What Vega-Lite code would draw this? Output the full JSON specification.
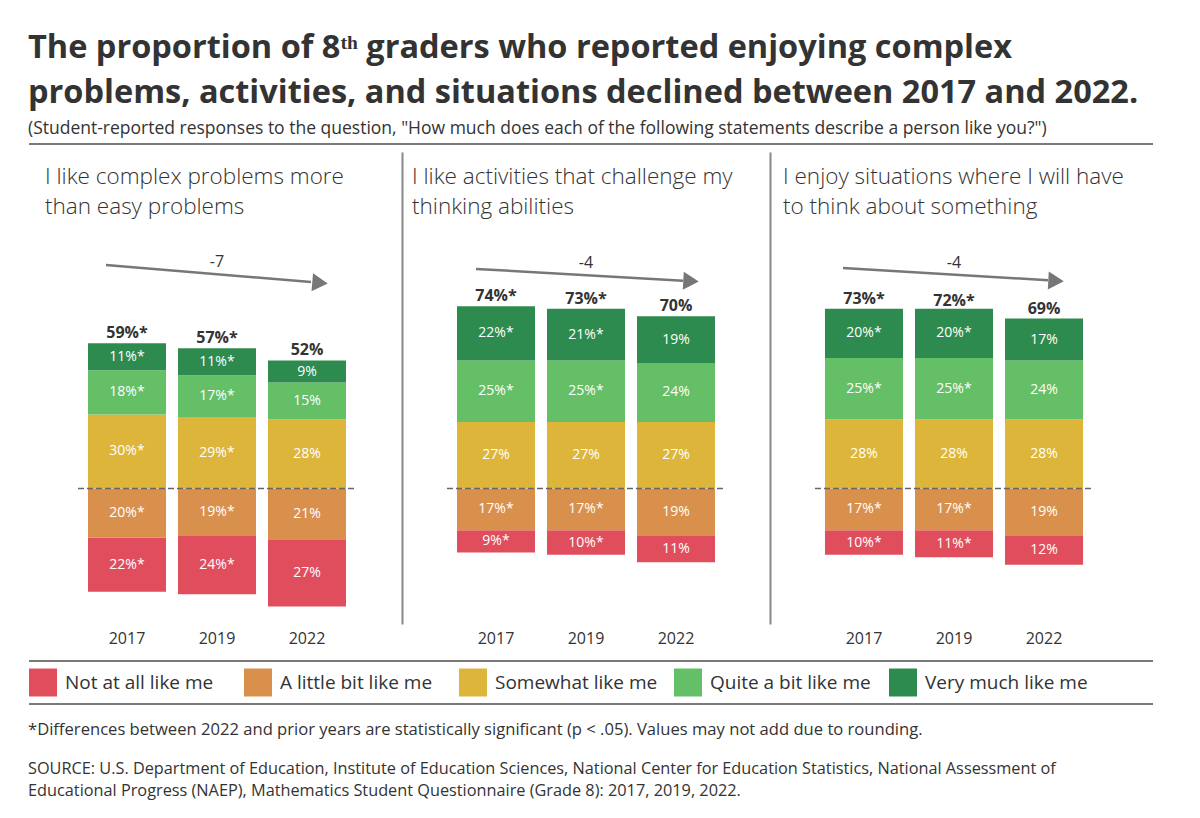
{
  "$schema": "https://vega.github.io/schema/vega-lite/v6.json",
  "background": "white",
  "padding": {"left": 28, "top": 31, "right": 10, "bottom": 5},
  "config": {
    "font": "Open Sans",
    "view": {"stroke": null},
    "axisX": {"domain": false, "ticks": false, "grid": false, "labelFontSize": 16, "labelColor": "#333", "labelPadding": 6, "labelAngle": 0, "labelFont": "Open Sans"},
    "axisY": {"domain": false, "ticks": false, "grid": false, "labels": false}
  },
  "title": {
    "text": ["The proportion of 8ᵗʰ graders who reported enjoying complex", "problems, activities, and situations declined between 2017 and 2022."],
    "subtitle": "(Student-reported responses to the question, \"How much does each of the following statements describe a person like you?\")",
    "anchor": "start",
    "font": "Open Sans", "fontSize": 32.5, "fontWeight": "bold", "lineHeight": 45, "color": "#333",
    "subtitleFont": "Open Sans", "subtitleFontSize": 17.5, "subtitleColor": "#333", "subtitlePadding": 11,
    "offset": 5
  },
  "datasets": {
    "bars": [
      {"item": "A", "year": "2017", "response": "Not at all like me", "level": 1, "pct": 22, "sig": true},
      {"item": "A", "year": "2017", "response": "A little bit like me", "level": 2, "pct": 20, "sig": true},
      {"item": "A", "year": "2017", "response": "Somewhat like me", "level": 3, "pct": 30, "sig": true},
      {"item": "A", "year": "2017", "response": "Quite a bit like me", "level": 4, "pct": 18, "sig": true},
      {"item": "A", "year": "2017", "response": "Very much like me", "level": 5, "pct": 11, "sig": true},
      {"item": "A", "year": "2019", "response": "Not at all like me", "level": 1, "pct": 24, "sig": true},
      {"item": "A", "year": "2019", "response": "A little bit like me", "level": 2, "pct": 19, "sig": true},
      {"item": "A", "year": "2019", "response": "Somewhat like me", "level": 3, "pct": 29, "sig": true},
      {"item": "A", "year": "2019", "response": "Quite a bit like me", "level": 4, "pct": 17, "sig": true},
      {"item": "A", "year": "2019", "response": "Very much like me", "level": 5, "pct": 11, "sig": true},
      {"item": "A", "year": "2022", "response": "Not at all like me", "level": 1, "pct": 27, "sig": false},
      {"item": "A", "year": "2022", "response": "A little bit like me", "level": 2, "pct": 21, "sig": false},
      {"item": "A", "year": "2022", "response": "Somewhat like me", "level": 3, "pct": 28, "sig": false},
      {"item": "A", "year": "2022", "response": "Quite a bit like me", "level": 4, "pct": 15, "sig": false},
      {"item": "A", "year": "2022", "response": "Very much like me", "level": 5, "pct": 9, "sig": false},
      {"item": "B", "year": "2017", "response": "Not at all like me", "level": 1, "pct": 9, "sig": true},
      {"item": "B", "year": "2017", "response": "A little bit like me", "level": 2, "pct": 17, "sig": true},
      {"item": "B", "year": "2017", "response": "Somewhat like me", "level": 3, "pct": 27, "sig": false},
      {"item": "B", "year": "2017", "response": "Quite a bit like me", "level": 4, "pct": 25, "sig": true},
      {"item": "B", "year": "2017", "response": "Very much like me", "level": 5, "pct": 22, "sig": true},
      {"item": "B", "year": "2019", "response": "Not at all like me", "level": 1, "pct": 10, "sig": true},
      {"item": "B", "year": "2019", "response": "A little bit like me", "level": 2, "pct": 17, "sig": true},
      {"item": "B", "year": "2019", "response": "Somewhat like me", "level": 3, "pct": 27, "sig": false},
      {"item": "B", "year": "2019", "response": "Quite a bit like me", "level": 4, "pct": 25, "sig": true},
      {"item": "B", "year": "2019", "response": "Very much like me", "level": 5, "pct": 21, "sig": true},
      {"item": "B", "year": "2022", "response": "Not at all like me", "level": 1, "pct": 11, "sig": false},
      {"item": "B", "year": "2022", "response": "A little bit like me", "level": 2, "pct": 19, "sig": false},
      {"item": "B", "year": "2022", "response": "Somewhat like me", "level": 3, "pct": 27, "sig": false},
      {"item": "B", "year": "2022", "response": "Quite a bit like me", "level": 4, "pct": 24, "sig": false},
      {"item": "B", "year": "2022", "response": "Very much like me", "level": 5, "pct": 19, "sig": false},
      {"item": "C", "year": "2017", "response": "Not at all like me", "level": 1, "pct": 10, "sig": true},
      {"item": "C", "year": "2017", "response": "A little bit like me", "level": 2, "pct": 17, "sig": true},
      {"item": "C", "year": "2017", "response": "Somewhat like me", "level": 3, "pct": 28, "sig": false},
      {"item": "C", "year": "2017", "response": "Quite a bit like me", "level": 4, "pct": 25, "sig": true},
      {"item": "C", "year": "2017", "response": "Very much like me", "level": 5, "pct": 20, "sig": true},
      {"item": "C", "year": "2019", "response": "Not at all like me", "level": 1, "pct": 11, "sig": true},
      {"item": "C", "year": "2019", "response": "A little bit like me", "level": 2, "pct": 17, "sig": true},
      {"item": "C", "year": "2019", "response": "Somewhat like me", "level": 3, "pct": 28, "sig": false},
      {"item": "C", "year": "2019", "response": "Quite a bit like me", "level": 4, "pct": 25, "sig": true},
      {"item": "C", "year": "2019", "response": "Very much like me", "level": 5, "pct": 20, "sig": true},
      {"item": "C", "year": "2022", "response": "Not at all like me", "level": 1, "pct": 12, "sig": false},
      {"item": "C", "year": "2022", "response": "A little bit like me", "level": 2, "pct": 19, "sig": false},
      {"item": "C", "year": "2022", "response": "Somewhat like me", "level": 3, "pct": 28, "sig": false},
      {"item": "C", "year": "2022", "response": "Quite a bit like me", "level": 4, "pct": 24, "sig": false},
      {"item": "C", "year": "2022", "response": "Very much like me", "level": 5, "pct": 17, "sig": false}
    ],
    "totals": [
      {"item": "A", "year": "2017", "total": 59, "sig": true},
      {"item": "A", "year": "2019", "total": 57, "sig": true},
      {"item": "A", "year": "2022", "total": 52, "sig": false},
      {"item": "B", "year": "2017", "total": 74, "sig": true},
      {"item": "B", "year": "2019", "total": 73, "sig": true},
      {"item": "B", "year": "2022", "total": 70, "sig": false},
      {"item": "C", "year": "2017", "total": 73, "sig": true},
      {"item": "C", "year": "2019", "total": 72, "sig": true},
      {"item": "C", "year": "2022", "total": 69, "sig": false}
    ],
    "items": [
      {"item": "A", "header": ["I like complex problems more", "than easy problems"], "change": "-7"},
      {"item": "B", "header": ["I like activities that challenge my", "thinking abilities"], "change": "-4"},
      {"item": "C", "header": ["I enjoy situations where I will have", "to think about something"], "change": "-4"}
    ],
    "responses": [
      {"response": "Not at all like me", "level": 1},
      {"response": "A little bit like me", "level": 2},
      {"response": "Somewhat like me", "level": 3},
      {"response": "Quite a bit like me", "level": 4},
      {"response": "Very much like me", "level": 5}
    ]
  },
  "resolve": {"scale": {"x": "independent", "y": "independent"}},
  "spacing": 14,
  "vconcat": [
    {
      "hconcat": [
        {
          "width": 373, "height": 472,
          "layer": [
            {"data": {"values": [{}]}, "mark": {"type": "rule", "color": "#7a7a7a", "strokeWidth": 2}, "encoding": {"y": {"datum": 140, "type": "quantitative", "scale": {"domain": [-55.1, 136.7], "nice": false, "zero": false}, "title": null}}},
            {"data": {"name": "items"}, "transform": [{"filter": "datum.item === 'A'"}], "mark": {"type": "text", "align": "left", "baseline": "top", "fontSize": 22.5, "fontWeight": 300, "lineHeight": 30, "color": "#333", "xOffset": -82}, "encoding": {"x": {"datum": "2017", "type": "ordinal", "title": null}, "y": {"datum": 131.2, "type": "quantitative", "scale": {"domain": [-55.1, 136.7], "nice": false, "zero": false}, "title": null}, "text": {"field": "header"}}},
            {"data": {"name": "items"}, "transform": [{"filter": "datum.item === 'A'"}], "mark": {"type": "rule", "color": "#777", "strokeWidth": 2.5, "xOffset": -21, "x2Offset": 4}, "encoding": {"x": {"datum": "2017", "type": "ordinal", "title": null}, "x2": {"datum": "2022"}, "y": {"datum": 90.8, "type": "quantitative", "scale": {"domain": [-55.1, 136.7], "nice": false, "zero": false}, "title": null}, "y2": {"datum": 83.9}}},
            {"data": {"name": "items"}, "transform": [{"filter": "datum.item === 'A'"}], "mark": {"type": "point", "shape": "triangle-right", "filled": true, "opacity": 1, "size": 320, "color": "#777", "angle": 5, "xOffset": 13}, "encoding": {"x": {"datum": "2022", "type": "ordinal", "title": null}, "y": {"datum": 83.5, "type": "quantitative", "scale": {"domain": [-55.1, 136.7], "nice": false, "zero": false}, "title": null}}},
            {"data": {"name": "items"}, "transform": [{"filter": "datum.item === 'A'"}], "mark": {"type": "text", "fontSize": 16, "color": "#333", "baseline": "middle"}, "encoding": {"x": {"datum": "2019", "type": "ordinal", "title": null}, "y": {"datum": 92, "type": "quantitative", "scale": {"domain": [-55.1, 136.7], "nice": false, "zero": false}, "title": null}, "text": {"field": "change"}}},
            {
              "data": {"name": "bars"},
              "transform": [
                {"filter": "datum.item === 'A'"},
                {"calculate": "datum.level <= 2 ? -datum.pct : datum.pct", "as": "signed"},
                {"calculate": "abs(datum.level - 2.5)", "as": "ord"},
                {"stack": "signed", "groupby": ["year"], "sort": [{"field": "ord", "order": "ascending"}], "as": ["y0", "y1"]},
                {"calculate": "(datum.y0 + datum.y1) / 2", "as": "mid"},
                {"calculate": "datum.pct + '%' + (datum.sig ? '*' : '')", "as": "label"}
              ],
              "layer": [
                {"mark": {"type": "bar"}, "encoding": {
                  "x": {"field": "year", "type": "ordinal", "title": null, "scale": {"paddingInner": 0.1333, "paddingOuter": 0.639, "align": 0.513}},
                  "y": {"field": "y0", "type": "quantitative", "scale": {"domain": [-55.1, 136.7], "nice": false, "zero": false}, "title": null},
                  "y2": {"field": "y1"},
                  "color": {"field": "response", "type": "nominal", "legend": null, "scale": {"domain": ["Not at all like me", "A little bit like me", "Somewhat like me", "Quite a bit like me", "Very much like me"], "range": ["#E04E5E", "#DA904D", "#DDB53B", "#64BF67", "#2E8B4F"]}}
                }},
                {"mark": {"type": "text", "color": "white", "fontSize": 14, "baseline": "middle"}, "encoding": {
                  "x": {"field": "year", "type": "ordinal", "title": null},
                  "y": {"field": "mid", "type": "quantitative", "scale": {"domain": [-55.1, 136.7], "nice": false, "zero": false}, "title": null},
                  "text": {"field": "label"}
                }}
              ]
            },
            {"data": {"name": "totals"}, "transform": [{"filter": "datum.item === 'A'"}, {"calculate": "datum.total + '%' + (datum.sig ? '*' : '')", "as": "label"}], "mark": {"type": "text", "fontSize": 16, "fontWeight": "bold", "color": "#333", "baseline": "bottom", "dy": -2}, "encoding": {"x": {"field": "year", "type": "ordinal", "title": null}, "y": {"field": "total", "type": "quantitative", "scale": {"domain": [-55.1, 136.7], "nice": false, "zero": false}, "title": null}, "text": {"field": "label"}}},
            {"data": {"values": [{}]}, "mark": {"type": "rule", "color": "#666", "strokeWidth": 1.5, "strokeDash": [6, 3], "xOffset": -49, "x2Offset": 49}, "encoding": {"x": {"datum": "2017", "type": "ordinal", "title": null}, "x2": {"datum": "2022"}, "y": {"datum": 0, "type": "quantitative", "scale": {"domain": [-55.1, 136.7], "nice": false, "zero": false}, "title": null}}}
          ]
        },
        {
          "width": 368, "height": 472,
          "layer": [
            {"data": {"values": [{}]}, "mark": {"type": "rule", "color": "#7a7a7a", "strokeWidth": 2}, "encoding": {"y": {"datum": 140, "type": "quantitative", "scale": {"domain": [-55.1, 136.7], "nice": false, "zero": false}, "title": null, "axis": {"domain": true, "domainColor": "#888", "domainWidth": 2}}}},
            {"data": {"name": "items"}, "transform": [{"filter": "datum.item === 'B'"}], "mark": {"type": "text", "align": "left", "baseline": "top", "fontSize": 22.5, "fontWeight": 300, "lineHeight": 30, "color": "#333", "xOffset": -84}, "encoding": {"x": {"datum": "2017", "type": "ordinal", "title": null}, "y": {"datum": 131.2, "type": "quantitative", "scale": {"domain": [-55.1, 136.7], "nice": false, "zero": false}, "title": null}, "text": {"field": "header"}}},
            {"data": {"name": "items"}, "transform": [{"filter": "datum.item === 'B'"}], "mark": {"type": "rule", "color": "#777", "strokeWidth": 2.5, "xOffset": -20, "x2Offset": 7}, "encoding": {"x": {"datum": "2017", "type": "ordinal", "title": null}, "x2": {"datum": "2022"}, "y": {"datum": 89.2, "type": "quantitative", "scale": {"domain": [-55.1, 136.7], "nice": false, "zero": false}, "title": null}, "y2": {"datum": 84.4}}},
            {"data": {"name": "items"}, "transform": [{"filter": "datum.item === 'B'"}], "mark": {"type": "point", "shape": "triangle-right", "filled": true, "opacity": 1, "size": 320, "color": "#777", "angle": 3, "xOffset": 15}, "encoding": {"x": {"datum": "2022", "type": "ordinal", "title": null}, "y": {"datum": 84.2, "type": "quantitative", "scale": {"domain": [-55.1, 136.7], "nice": false, "zero": false}, "title": null}}},
            {"data": {"name": "items"}, "transform": [{"filter": "datum.item === 'B'"}], "mark": {"type": "text", "fontSize": 16, "color": "#333", "baseline": "middle"}, "encoding": {"x": {"datum": "2019", "type": "ordinal", "title": null}, "y": {"datum": 91.6, "type": "quantitative", "scale": {"domain": [-55.1, 136.7], "nice": false, "zero": false}, "title": null}, "text": {"field": "change"}}},
            {
              "data": {"name": "bars"},
              "transform": [
                {"filter": "datum.item === 'B'"},
                {"calculate": "datum.level <= 2 ? -datum.pct : datum.pct", "as": "signed"},
                {"calculate": "abs(datum.level - 2.5)", "as": "ord"},
                {"stack": "signed", "groupby": ["year"], "sort": [{"field": "ord", "order": "ascending"}], "as": ["y0", "y1"]},
                {"calculate": "(datum.y0 + datum.y1) / 2", "as": "mid"},
                {"calculate": "datum.pct + '%' + (datum.sig ? '*' : '')", "as": "label"}
              ],
              "layer": [
                {"mark": {"type": "bar"}, "encoding": {
                  "x": {"field": "year", "type": "ordinal", "title": null, "scale": {"paddingInner": 0.1333, "paddingOuter": 0.611, "align": 0.5}},
                  "y": {"field": "y0", "type": "quantitative", "scale": {"domain": [-55.1, 136.7], "nice": false, "zero": false}, "title": null},
                  "y2": {"field": "y1"},
                  "color": {"field": "response", "type": "nominal", "legend": null, "scale": {"domain": ["Not at all like me", "A little bit like me", "Somewhat like me", "Quite a bit like me", "Very much like me"], "range": ["#E04E5E", "#DA904D", "#DDB53B", "#64BF67", "#2E8B4F"]}}
                }},
                {"mark": {"type": "text", "color": "white", "fontSize": 14, "baseline": "middle"}, "encoding": {
                  "x": {"field": "year", "type": "ordinal", "title": null},
                  "y": {"field": "mid", "type": "quantitative", "scale": {"domain": [-55.1, 136.7], "nice": false, "zero": false}, "title": null},
                  "text": {"field": "label"}
                }}
              ]
            },
            {"data": {"name": "totals"}, "transform": [{"filter": "datum.item === 'B'"}, {"calculate": "datum.total + '%' + (datum.sig ? '*' : '')", "as": "label"}], "mark": {"type": "text", "fontSize": 16, "fontWeight": "bold", "color": "#333", "baseline": "bottom", "dy": -2}, "encoding": {"x": {"field": "year", "type": "ordinal", "title": null}, "y": {"field": "total", "type": "quantitative", "scale": {"domain": [-55.1, 136.7], "nice": false, "zero": false}, "title": null}, "text": {"field": "label"}}},
            {"data": {"values": [{}]}, "mark": {"type": "rule", "color": "#666", "strokeWidth": 1.5, "strokeDash": [6, 3], "xOffset": -49, "x2Offset": 49}, "encoding": {"x": {"datum": "2017", "type": "ordinal", "title": null}, "x2": {"datum": "2022"}, "y": {"datum": 0, "type": "quantitative", "scale": {"domain": [-55.1, 136.7], "nice": false, "zero": false}, "title": null}}}
          ]
        },
        {
          "width": 383, "height": 472,
          "layer": [
            {"data": {"values": [{}]}, "mark": {"type": "rule", "color": "#7a7a7a", "strokeWidth": 2}, "encoding": {"y": {"datum": 140, "type": "quantitative", "scale": {"domain": [-55.1, 136.7], "nice": false, "zero": false}, "title": null, "axis": {"domain": true, "domainColor": "#888", "domainWidth": 2}}}},
            {"data": {"name": "items"}, "transform": [{"filter": "datum.item === 'C'"}], "mark": {"type": "text", "align": "left", "baseline": "top", "fontSize": 22.5, "fontWeight": 300, "lineHeight": 30, "color": "#333", "xOffset": -81}, "encoding": {"x": {"datum": "2017", "type": "ordinal", "title": null}, "y": {"datum": 131.2, "type": "quantitative", "scale": {"domain": [-55.1, 136.7], "nice": false, "zero": false}, "title": null}, "text": {"field": "header"}}},
            {"data": {"name": "items"}, "transform": [{"filter": "datum.item === 'C'"}], "mark": {"type": "rule", "color": "#777", "strokeWidth": 2.5, "xOffset": -21, "x2Offset": 4}, "encoding": {"x": {"datum": "2017", "type": "ordinal", "title": null}, "x2": {"datum": "2022"}, "y": {"datum": 89.6, "type": "quantitative", "scale": {"domain": [-55.1, 136.7], "nice": false, "zero": false}, "title": null}, "y2": {"datum": 84.6}}},
            {"data": {"name": "items"}, "transform": [{"filter": "datum.item === 'C'"}], "mark": {"type": "point", "shape": "triangle-right", "filled": true, "opacity": 1, "size": 320, "color": "#777", "angle": 3, "xOffset": 12}, "encoding": {"x": {"datum": "2022", "type": "ordinal", "title": null}, "y": {"datum": 84.3, "type": "quantitative", "scale": {"domain": [-55.1, 136.7], "nice": false, "zero": false}, "title": null}}},
            {"data": {"name": "items"}, "transform": [{"filter": "datum.item === 'C'"}], "mark": {"type": "text", "fontSize": 16, "color": "#333", "baseline": "middle"}, "encoding": {"x": {"datum": "2019", "type": "ordinal", "title": null}, "y": {"datum": 91.6, "type": "quantitative", "scale": {"domain": [-55.1, 136.7], "nice": false, "zero": false}, "title": null}, "text": {"field": "change"}}},
            {
              "data": {"name": "bars"},
              "transform": [
                {"filter": "datum.item === 'C'"},
                {"calculate": "datum.level <= 2 ? -datum.pct : datum.pct", "as": "signed"},
                {"calculate": "abs(datum.level - 2.5)", "as": "ord"},
                {"stack": "signed", "groupby": ["year"], "sort": [{"field": "ord", "order": "ascending"}], "as": ["y0", "y1"]},
                {"calculate": "(datum.y0 + datum.y1) / 2", "as": "mid"},
                {"calculate": "datum.pct + '%' + (datum.sig ? '*' : '')", "as": "label"}
              ],
              "layer": [
                {"mark": {"type": "bar"}, "encoding": {
                  "x": {"field": "year", "type": "ordinal", "title": null, "scale": {"paddingInner": 0.1333, "paddingOuter": 0.694, "align": 0.44}},
                  "y": {"field": "y0", "type": "quantitative", "scale": {"domain": [-55.1, 136.7], "nice": false, "zero": false}, "title": null},
                  "y2": {"field": "y1"},
                  "color": {"field": "response", "type": "nominal", "legend": null, "scale": {"domain": ["Not at all like me", "A little bit like me", "Somewhat like me", "Quite a bit like me", "Very much like me"], "range": ["#E04E5E", "#DA904D", "#DDB53B", "#64BF67", "#2E8B4F"]}}
                }},
                {"mark": {"type": "text", "color": "white", "fontSize": 14, "baseline": "middle"}, "encoding": {
                  "x": {"field": "year", "type": "ordinal", "title": null},
                  "y": {"field": "mid", "type": "quantitative", "scale": {"domain": [-55.1, 136.7], "nice": false, "zero": false}, "title": null},
                  "text": {"field": "label"}
                }}
              ]
            },
            {"data": {"name": "totals"}, "transform": [{"filter": "datum.item === 'C'"}, {"calculate": "datum.total + '%' + (datum.sig ? '*' : '')", "as": "label"}], "mark": {"type": "text", "fontSize": 16, "fontWeight": "bold", "color": "#333", "baseline": "bottom", "dy": -2}, "encoding": {"x": {"field": "year", "type": "ordinal", "title": null}, "y": {"field": "total", "type": "quantitative", "scale": {"domain": [-55.1, 136.7], "nice": false, "zero": false}, "title": null}, "text": {"field": "label"}}},
            {"data": {"values": [{}]}, "mark": {"type": "rule", "color": "#666", "strokeWidth": 1.5, "strokeDash": [6, 3], "xOffset": -49, "x2Offset": 49}, "encoding": {"x": {"datum": "2017", "type": "ordinal", "title": null}, "x2": {"datum": "2022"}, "y": {"datum": 0, "type": "quantitative", "scale": {"domain": [-55.1, 136.7], "nice": false, "zero": false}, "title": null}}}
          ]
        }
      ],
      "spacing": 0,
      "bounds": "flush",
      "resolve": {"scale": {"x": "independent", "y": "independent"}}
    },
    {
      "width": 1124, "height": 43,
      "data": {"name": "responses"},
      "title": {
        "text": "*Differences between 2022 and prior years are statistically significant (p < .05). Values may not add due to rounding.",
        "subtitle": ["SOURCE: U.S. Department of Education, Institute of Education Sciences, National Center for Education Statistics, National Assessment of", "Educational Progress (NAEP), Mathematics Student Questionnaire (Grade 8): 2017, 2019, 2022."],
        "orient": "bottom", "anchor": "start",
        "font": "Open Sans", "fontSize": 16.6, "fontWeight": "normal", "color": "#333",
        "subtitleFont": "Open Sans", "subtitleFontSize": 16.3, "subtitleColor": "#333", "subtitlePadding": 22, "subtitleLineHeight": 22,
        "offset": 17
      },
      "layer": [
        {"data": {"values": [{}]}, "mark": {"type": "rule", "color": "#7a7a7a", "strokeWidth": 2}, "encoding": {"y": {"datum": 1, "type": "quantitative", "scale": {"domain": [0, 1], "nice": false}, "axis": null}}},
        {"data": {"values": [{}]}, "mark": {"type": "rule", "color": "#7a7a7a", "strokeWidth": 2}, "encoding": {"y": {"datum": 0, "type": "quantitative", "scale": {"domain": [0, 1], "nice": false}, "axis": null}}},
        {"mark": {"type": "point", "shape": "square", "filled": true, "opacity": 1, "size": 784, "xOffset": 14}, "encoding": {
          "x": {"field": "response", "type": "nominal", "sort": null, "bandPosition": 0, "axis": null, "scale": {"type": "band", "paddingInner": 0, "paddingOuter": 0.114, "align": 0}},
          "y": {"datum": 0.5, "type": "quantitative", "scale": {"domain": [0, 1], "nice": false}, "axis": null},
          "color": {"field": "response", "type": "nominal", "legend": null, "scale": {"domain": ["Not at all like me", "A little bit like me", "Somewhat like me", "Quite a bit like me", "Very much like me"], "range": ["#E04E5E", "#DA904D", "#DDB53B", "#64BF67", "#2E8B4F"]}}
        }},
        {"mark": {"type": "text", "align": "left", "baseline": "middle", "fontSize": 19, "color": "#333", "xOffset": 36}, "encoding": {
          "x": {"field": "response", "type": "nominal", "sort": null, "bandPosition": 0, "axis": null},
          "y": {"datum": 0.5, "type": "quantitative", "scale": {"domain": [0, 1], "nice": false}, "axis": null},
          "text": {"field": "response"}
        }}
      ]
    }
  ]
}
